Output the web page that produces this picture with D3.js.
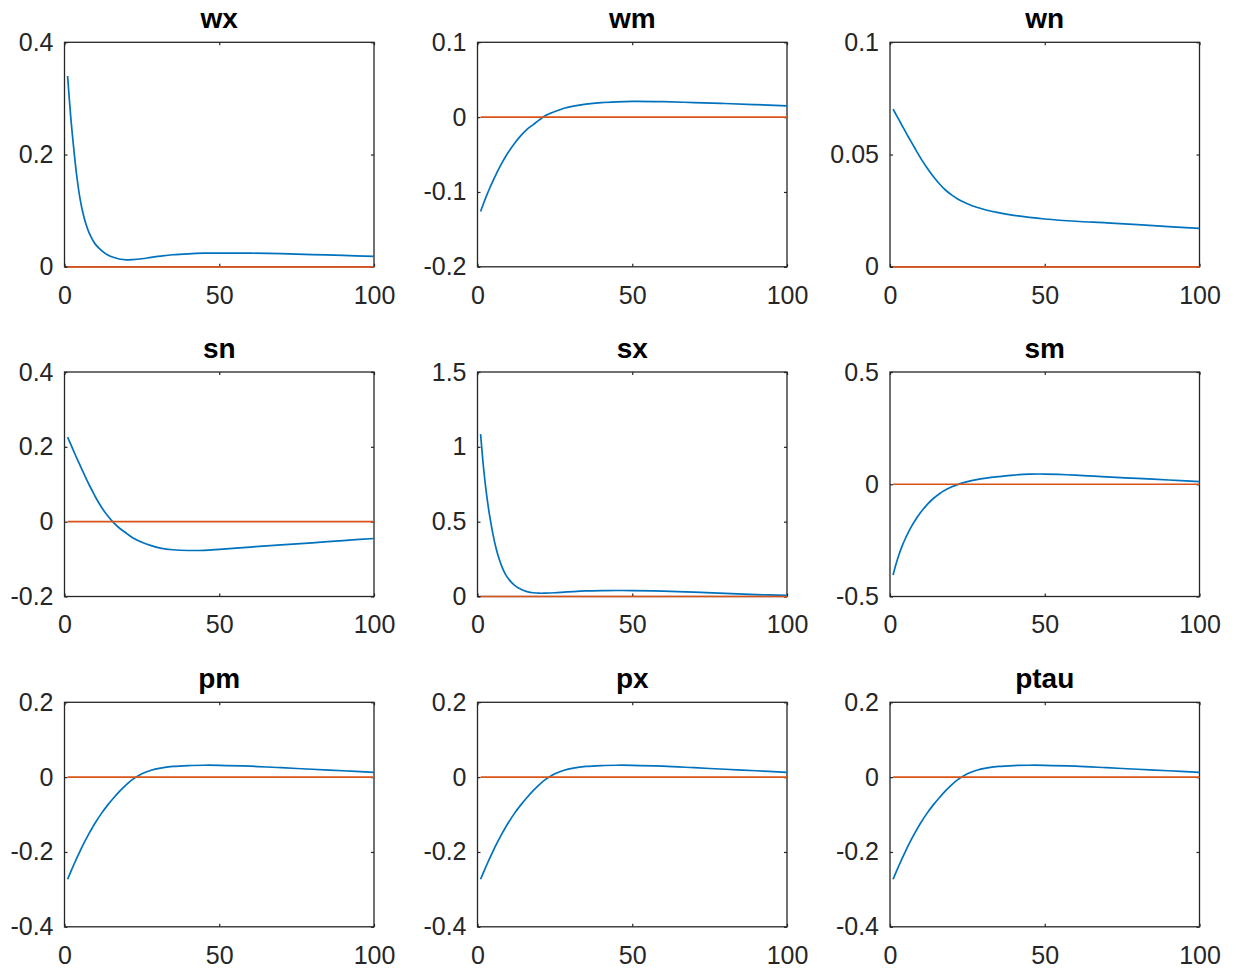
<!DOCTYPE html>
<html>
<head>
<meta charset="utf-8">
<script src="https://cdn.jsdelivr.net/npm/d3@7"></script>
<style>
  html, body { margin: 0; padding: 0; background: #fff; }
  svg { display: block; }
  .tick text { font-family: "Liberation Sans", Arial, Helvetica, sans-serif; font-size: 25px; fill: #262626; }
  .tick line { stroke: #262626; stroke-width: 1.2; }
  .domain { display: none; }
  .ptitle { font-family: "Liberation Sans", Arial, Helvetica, sans-serif; font-size: 28px; font-weight: bold; fill: #000; }
</style>
</head>
<body>
<svg id="chart" width="1237" height="974"></svg>
<script>
// Impulse responses over 100 periods, one panel per variable
const periods = [1, 2, 3, 4, 5, 6, 7, 8, 9, 10, 12, 14, 16, 18, 20, 22, 25, 28, 31, 35, 40, 45, 50, 60, 70, 80, 90, 100];

const wx   = [0.340, 0.268, 0.210, 0.160, 0.122, 0.095, 0.075, 0.060, 0.049, 0.040, 0.029, 0.021, 0.0165, 0.0135, 0.0125, 0.0127, 0.0143, 0.0168, 0.019, 0.0215, 0.0232, 0.0242, 0.0245, 0.0243, 0.0234, 0.0218, 0.0202, 0.0185];
const wm   = [-0.126, -0.1148, -0.1043, -0.0944, -0.0851, -0.0764, -0.0682, -0.0605, -0.0533, -0.0467, -0.0349, -0.0248, -0.0164, -0.0100, -0.0036, 0.0022, 0.0075, 0.0118, 0.0148, 0.0175, 0.0195, 0.0205, 0.021, 0.0206, 0.0195, 0.0182, 0.0167, 0.015];
const wn   = [0.0702, 0.0677, 0.0652, 0.0627, 0.0602, 0.0577, 0.0553, 0.0529, 0.0505, 0.0482, 0.0440, 0.0402, 0.0369, 0.0341, 0.0319, 0.0301, 0.0281, 0.0265, 0.0253, 0.0241, 0.0229, 0.0220, 0.0213, 0.0203, 0.0196, 0.0188, 0.0179, 0.0171];
const sn   = [0.226, 0.207, 0.188, 0.169, 0.151, 0.133, 0.115, 0.098, 0.082, 0.066, 0.038, 0.015, -0.004, -0.019, -0.031, -0.043, -0.055, -0.064, -0.0705, -0.075, -0.077, -0.0765, -0.074, -0.068, -0.062, -0.0565, -0.0505, -0.045];
const sx   = [1.085, 0.85, 0.67, 0.53, 0.415, 0.322, 0.25, 0.193, 0.15, 0.118, 0.074, 0.048, 0.033, 0.025, 0.022, 0.0225, 0.025, 0.029, 0.033, 0.037, 0.0395, 0.0402, 0.0395, 0.036, 0.029, 0.021, 0.013, 0.007];
const sm   = [-0.404, -0.353, -0.3095, -0.2725, -0.2405, -0.212, -0.1865, -0.1635, -0.1425, -0.1235, -0.0905, -0.0635, -0.042, -0.025, -0.0115, -0.0007, 0.0118, 0.0208, 0.0273, 0.034, 0.041, 0.045, 0.0455, 0.041, 0.033, 0.026, 0.019, 0.012];
const pm   = [-0.273, -0.2532, -0.2341, -0.2158, -0.1982, -0.1813, -0.1652, -0.1498, -0.1352, -0.1214, -0.0962, -0.0741, -0.0543, -0.0361, -0.0198, -0.006, 0.0092, 0.0185, 0.024, 0.0285, 0.031, 0.0318, 0.0316, 0.0292, 0.0252, 0.021, 0.017, 0.0128];
const px   = [-0.273, -0.2532, -0.2341, -0.2158, -0.1982, -0.1813, -0.1652, -0.1498, -0.1352, -0.1214, -0.0962, -0.0741, -0.0543, -0.0361, -0.0198, -0.006, 0.0092, 0.0185, 0.024, 0.0285, 0.031, 0.0318, 0.0316, 0.0292, 0.0252, 0.021, 0.017, 0.0128];
const ptau = [-0.273, -0.2532, -0.2341, -0.2158, -0.1982, -0.1813, -0.1652, -0.1498, -0.1352, -0.1214, -0.0962, -0.0741, -0.0543, -0.0361, -0.0198, -0.006, 0.0092, 0.0185, 0.024, 0.0285, 0.031, 0.0318, 0.0316, 0.0292, 0.0252, 0.021, 0.017, 0.0128];

// Reference (steady-state) line
const baseline = periods.map(() => 0);

const titles = ["wx", "wm", "wn", "sn", "sx", "sm", "pm", "px", "ptau"];
const series = [wx, wm, wn, sn, sx, sm, pm, px, ptau];

// y-axis limits and tick labels per panel
const yLimits = [[0, 0.4], [-0.2, 0.1], [0, 0.1], [-0.2, 0.4], [0, 1.5], [-0.5, 0.5], [-0.4, 0.2], [-0.4, 0.2], [-0.4, 0.2]];
const yTicks = [
  [0, 0.2, 0.4],
  [-0.2, -0.1, 0, 0.1],
  [0, 0.05, 0.1],
  [-0.2, 0, 0.2, 0.4],
  [0, 0.5, 1, 1.5],
  [-0.5, 0, 0.5],
  [-0.4, -0.2, 0, 0.2],
  [-0.4, -0.2, 0, 0.2],
  [-0.4, -0.2, 0, 0.2]
];
const xLimits = [0, 100];
const xTicks = [0, 50, 100];

// Grid layout
const colLeft = [64.5, 477.5, 890];
const rowTop = [42.3, 372, 702.3];
const plotW = 309.5;
const plotH = 224.5;
const tickLen = 3;

const blue = "#0072BD";
const orange = "#D95319";
const axisColor = "#262626";

const svg = d3.select("#chart");

titles.forEach((name, i) => {
  const col = i % 3, row = Math.floor(i / 3);
  const g = svg.append("g").attr("transform", `translate(${colLeft[col]},${rowTop[row]})`);

  const x = d3.scaleLinear().domain(xLimits).range([0, plotW]);
  const y = d3.scaleLinear().domain(yLimits[i]).range([plotH, 0]);

  // Axes with inward ticks on all four sides
  g.append("g").attr("transform", `translate(0,${plotH})`)
    .call(d3.axisBottom(x).tickValues(xTicks).tickFormat(d3.format("d")).tickSize(-tickLen).tickPadding(19));
  g.append("g")
    .call(d3.axisTop(x).tickValues(xTicks).tickFormat("").tickSize(-tickLen));
  g.append("g")
    .call(d3.axisLeft(y).tickValues(yTicks[i]).tickFormat(d => String(d)).tickSize(-tickLen).tickPadding(11));
  g.append("g").attr("transform", `translate(${plotW},0)`)
    .call(d3.axisRight(y).tickValues(yTicks[i]).tickFormat("").tickSize(-tickLen));

  // Box outline
  g.append("rect")
    .attr("x", 0).attr("y", 0).attr("width", plotW).attr("height", plotH)
    .attr("fill", "none").attr("stroke", axisColor).attr("stroke-width", 1.3);

  const line = d3.line()
    .x((d, k) => x(periods[k]))
    .y(d => y(d))
    .curve(d3.curveCatmullRom.alpha(0.5));

  g.append("path").datum(series[i])
    .attr("d", line).attr("fill", "none").attr("stroke", blue).attr("stroke-width", 1.7);
  g.append("path").datum(baseline)
    .attr("d", line).attr("fill", "none").attr("stroke", orange).attr("stroke-width", 1.7);

  g.append("text").attr("class", "ptitle")
    .attr("x", plotW / 2).attr("y", -14)
    .attr("text-anchor", "middle")
    .text(name);
});
</script>
</body>
</html>
